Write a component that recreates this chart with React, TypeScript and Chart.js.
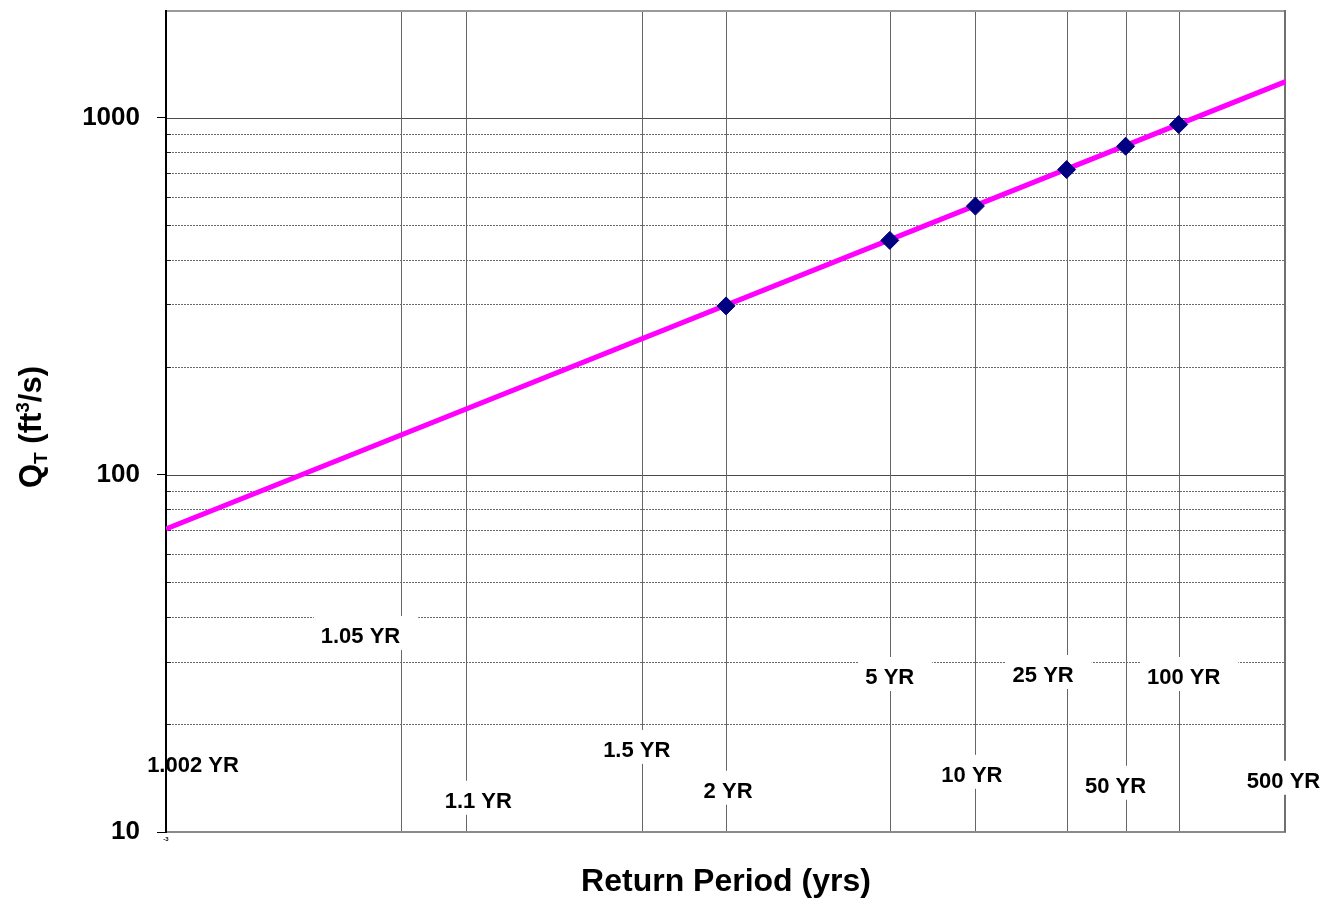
import React, { useEffect, useRef } from 'react';
import { Chart, registerables } from 'chart.js';

Chart.register(...registerables);

// ---- Data ----
const GRID_RETURN_PERIODS = [1.002, 1.05, 1.1, 1.5, 2, 5, 10, 25, 50, 100, 500];
const POINT_RETURN_PERIODS = [2, 5, 10, 25, 50, 100];
const POINT_DISCHARGE = [297, 453, 565, 715, 831, 956];
const LINE_RETURN_PERIODS = [1.002, 500];
const LINE_DISCHARGE = [70.5, 1262];
const Y_LABELED_TICKS = [10, 100, 1000];
const Y_MIN = 10;
const Y_MAX = 2000;
const X_TITLE = 'Return Period (yrs)';
const X_MIN_TICK_LABEL = '-3';

const LABEL_TEXTS = ['1.002 YR', '1.05 YR', '1.1 YR', '1.5 YR', '2 YR', '5 YR', '10 YR', '25 YR', '50 YR', '100 YR', '500 YR'];
const LABEL_PERIODS = [1.002, 1.05, 1.1, 1.5, 2, 5, 10, 25, 50, 100, 500];
// label placement (annotation layout): baseline value on the Q axis, and horizontal pixel shift from its gridline
const LABEL_LAYOUT = [
  { q: 14.74, dx: 27 },
  { q: 33.8, dx: -41 },
  { q: 11.69, dx: 12 },
  { q: 16.23, dx: -5.5 },
  { q: 12.47, dx: 2 },
  { q: 25.96, dx: 0 },
  { q: 13.82, dx: -3.5 },
  { q: 26.3, dx: -23.5 },
  { q: 12.88, dx: -10 },
  { q: 25.96, dx: 5 },
  { q: 13.3, dx: -2.5 },
];

const FONT = 'Arial, "Liberation Sans", Helvetica, sans-serif';

// inverse standard normal CDF (Acklam) -> normal probability paper x-scale
function normInv(p: number): number {
  const a = [-3.969683028665376e1, 2.209460984245205e2, -2.759285104469687e2, 1.38357751867269e2, -3.066479806614716e1, 2.506628277459239];
  const b = [-5.447609879822406e1, 1.615858368580409e2, -1.556989798598866e2, 6.680131188771972e1, -1.328068155288572e1];
  const c = [-7.784894002430293e-3, -3.223964580411365e-1, -2.400758277161838, -2.549732539343734, 4.374664141464968, 2.938163982698783];
  const d = [7.784695709041462e-3, 3.224671290700398e-1, 2.445134137142996, 3.754408661907416];
  const pl = 0.02425;
  const ph = 1 - pl;
  let q: number;
  let r: number;
  if (p < pl) {
    q = Math.sqrt(-2 * Math.log(p));
    return (((((c[0] * q + c[1]) * q + c[2]) * q + c[3]) * q + c[4]) * q + c[5]) / ((((d[0] * q + d[1]) * q + d[2]) * q + d[3]) * q + 1);
  }
  if (p <= ph) {
    q = p - 0.5;
    r = q * q;
    return ((((((a[0] * r + a[1]) * r + a[2]) * r + a[3]) * r + a[4]) * r + a[5]) * q) / (((((b[0] * r + b[1]) * r + b[2]) * r + b[3]) * r + b[4]) * r + 1);
  }
  q = Math.sqrt(-2 * Math.log(1 - p));
  return -(((((c[0] * q + c[1]) * q + c[2]) * q + c[3]) * q + c[4]) * q + c[5]) / ((((d[0] * q + d[1]) * q + d[2]) * q + d[3]) * q + 1);
}
const zOf = (T: number) => normInv(1 - 1 / T);

const isPow10 = (v: number) => Math.abs(Math.log10(v) - Math.round(Math.log10(v))) < 1e-9;

const gridPlugin = {
  id: 'probGrid',
  beforeDatasetsDraw(chart: any) {
    const { ctx, chartArea, scales } = chart;
    const { left, right, top, bottom } = chartArea;
    const x = scales.x;
    const y = scales.y;
    ctx.save();
    // minor horizontal dotted lines
    for (let dec = Y_MIN; dec < Y_MAX; dec *= 10) {
      for (let m = 2; m <= 9; m++) {
        const v = m * dec;
        if (v >= Y_MAX) continue;
        const py = Math.round(y.getPixelForValue(v)) + 0.5;
        ctx.strokeStyle = '#6a6a6a';
        ctx.lineWidth = 1;
        ctx.setLineDash([2, 1]);
        ctx.beginPath();
        ctx.moveTo(left, py);
        ctx.lineTo(right, py);
        ctx.stroke();
        ctx.setLineDash([]);
        ctx.strokeStyle = '#222';
        ctx.beginPath();
        ctx.moveTo(left, py);
        ctx.lineTo(left + 5, py);
        ctx.stroke();
      }
    }
    // major horizontal lines
    ctx.setLineDash([]);
    for (const v of Y_LABELED_TICKS) {
      if (v <= Y_MIN) continue;
      const py = Math.round(y.getPixelForValue(v)) + 0.5;
      ctx.strokeStyle = '#4a4a4a';
      ctx.lineWidth = 1;
      ctx.beginPath();
      ctx.moveTo(left, py);
      ctx.lineTo(right, py);
      ctx.stroke();
    }
    // vertical return-period lines
    for (const T of GRID_RETURN_PERIODS) {
      const px = Math.round(x.getPixelForValue(zOf(T))) + 0.5;
      if (px <= left + 2 || px >= right - 2) continue;
      ctx.strokeStyle = '#666';
      ctx.lineWidth = 1;
      ctx.beginPath();
      ctx.moveTo(px, top);
      ctx.lineTo(px, bottom);
      ctx.stroke();
    }
    // plot-area border
    ctx.lineWidth = 2;
    ctx.strokeStyle = '#9a9a9a';
    ctx.beginPath();
    ctx.moveTo(left, top + 1);
    ctx.lineTo(right, top + 1);
    ctx.stroke();
    ctx.strokeStyle = '#8a8a8a';
    ctx.beginPath();
    ctx.moveTo(left, bottom);
    ctx.lineTo(right, bottom);
    ctx.stroke();
    ctx.strokeStyle = '#707070';
    ctx.beginPath();
    ctx.moveTo(right - 1, top);
    ctx.lineTo(right - 1, bottom);
    ctx.stroke();
    ctx.strokeStyle = '#000';
    ctx.beginPath();
    ctx.moveTo(left, top);
    ctx.lineTo(left, bottom + 1);
    ctx.stroke();
    ctx.restore();
  },
  afterDraw(chart: any) {
    const { ctx, chartArea, scales } = chart;
    const { left, right, bottom } = chartArea;
    const x = scales.x;
    const y = scales.y;
    ctx.save();
    // return period labels with white boxes
    ctx.font = `bold 22px ${FONT}`;
    ctx.textBaseline = 'alphabetic';
    ctx.textAlign = 'left';
    LABEL_TEXTS.forEach((txt, i) => {
      const gx = x.getPixelForValue(zOf(LABEL_PERIODS[i]));
      const cx = gx + LABEL_LAYOUT[i].dx;
      const base = y.getPixelForValue(LABEL_LAYOUT[i].q);
      const w = ctx.measureText(txt).width;
      const tl = cx - w / 2;
      let bx0 = tl - 7;
      let bx1 = tl + w + 18;
      bx0 = Math.max(bx0, left + 1);
      bx1 = Math.min(bx1, right + 2);
      ctx.fillStyle = '#fff';
      ctx.fillRect(bx0, base - 16 - 11, bx1 - bx0, 16 + 11 + 7);
      ctx.fillStyle = '#000';
      ctx.fillText(txt, tl, base);
    });
    // tiny x min tick label
    ctx.font = `bold 6px ${FONT}`;
    ctx.textAlign = 'center';
    ctx.textBaseline = 'middle';
    ctx.fillText(X_MIN_TICK_LABEL, left, bottom + 7);
    // y-axis title with subscript / superscript
    ctx.translate(41, 488);
    ctx.rotate(-Math.PI / 2);
    ctx.textAlign = 'left';
    ctx.textBaseline = 'alphabetic';
    const segs = [
      { t: 'Q', s: 31, dy: 0 },
      { t: 'T', s: 19, dy: 6 },
      { t: ' (ft', s: 31, dy: 0 },
      { t: '3', s: 19, dy: -12 },
      { t: '/s)', s: 31, dy: 0 },
    ];
    let px = 0;
    for (const sg of segs) {
      ctx.font = `bold ${sg.s}px ${FONT}`;
      ctx.fillText(sg.t, px, sg.dy);
      px += ctx.measureText(sg.t).width;
    }
    ctx.restore();
  },
};

export default function App() {
  const ref = useRef<HTMLCanvasElement | null>(null);
  useEffect(() => {
    if (!ref.current) return;
    const chart = new Chart(ref.current, {
      type: 'line',
      data: {
        datasets: [
          {
            label: 'Computed',
            data: POINT_RETURN_PERIODS.map((T, i) => ({ x: zOf(T), y: POINT_DISCHARGE[i] })),
            showLine: false,
            pointStyle: 'rectRot',
            pointRadius: 9,
            pointBorderWidth: 1,
            pointBackgroundColor: '#000080',
            pointBorderColor: '#000080',
            borderColor: '#000080',
            backgroundColor: '#000080',
            order: 0,
          },
          {
            label: 'Fit',
            data: LINE_RETURN_PERIODS.map((T, i) => ({ x: zOf(T), y: LINE_DISCHARGE[i] })),
            borderColor: '#FF00FF',
            borderWidth: 5,
            pointRadius: 0,
            fill: false,
            tension: 0,
            order: 1,
          },
        ],
      },
      options: {
        responsive: false,
        animation: false,
        devicePixelRatio: 1,
        layout: { padding: { left: 0, top: 8, right: 40, bottom: 0 } },
        plugins: { legend: { display: false }, tooltip: { enabled: false } },
        scales: {
          x: {
            type: 'linear',
            min: zOf(GRID_RETURN_PERIODS[0]),
            max: zOf(GRID_RETURN_PERIODS[GRID_RETURN_PERIODS.length - 1]),
            grid: { display: false },
            border: { display: false },
            ticks: { display: false },
            title: {
              display: true,
              text: X_TITLE,
              color: '#000',
              font: { family: FONT, size: 32, weight: 'bold' },
              padding: { top: 0, bottom: 3 },
            },
            afterFit: (s: any) => {
              s.height = 72;
              s.paddingLeft = 0;
              s.paddingRight = 0;
            },
          },
          y: {
            type: 'logarithmic',
            min: Y_MIN,
            max: Y_MAX,
            border: { display: false },
            grid: {
              drawOnChartArea: false,
              drawTicks: true,
              tickLength: 9,
              tickWidth: 1,
              tickColor: (c: any) => (c.tick && isPow10(c.tick.value) ? '#000' : 'rgba(0,0,0,0)'),
            },
            ticks: {
              autoSkip: false,
              padding: 17,
              color: '#000',
              font: { family: FONT, size: 26, weight: 'bold' },
              callback: (v: any) => (Y_LABELED_TICKS.some((t) => Math.abs(t - Number(v)) < 1e-6) ? String(Number(v)) : ''),
            },
            afterFit: (s: any) => {
              s.width = 166;
              s.paddingTop = 0;
              s.paddingBottom = 0;
            },
          },
        },
      },
      plugins: [gridPlugin],
    } as any);
    return () => chart.destroy();
  }, []);
  return (
    <div style={{ position: 'absolute', left: 0, top: 0, width: 1326, height: 904, background: '#fff' }}>
      <canvas ref={ref} width={1326} height={904} style={{ display: 'block' }} />
    </div>
  );
}
